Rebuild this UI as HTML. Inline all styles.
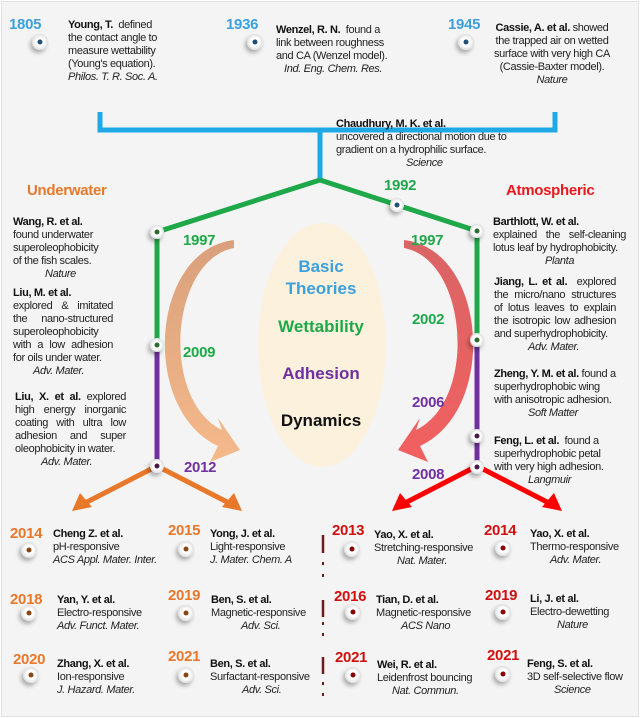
<!DOCTYPE html>
<html><head><meta charset="utf-8"><style>
body{margin:0;width:640px;height:718px;background:#fff;font-family:"Liberation Sans",sans-serif;overflow:hidden}
#c{position:absolute;left:1px;top:1px;width:636px;height:714px;background:#f4f4f4;border:1px solid #e2e2e2}
.t{position:absolute;font-size:11px;line-height:13px;color:#222;letter-spacing:-0.35px}
.t b{color:#111}
.t i{font-style:italic}
.y{position:absolute;font-weight:bold;font-size:15px;letter-spacing:-0.3px}
.c{text-align:center}
.j{text-align:justify}
.big{position:absolute;font-weight:bold;font-size:17px;text-align:center;width:160px;left:241px}
</style></head><body><div id="c"></div>
<svg width="640" height="718" style="position:absolute;left:0;top:0">
<defs>
<radialGradient id="nd"><stop offset="0.55" stop-color="#fff"/><stop offset="1" stop-color="#ddd"/></radialGradient>
<linearGradient id="og" x1="0" y1="0" x2="0" y2="1"><stop offset="0" stop-color="#d9a07c"/><stop offset="1" stop-color="#f5b98a"/></linearGradient>
<linearGradient id="rg" x1="0" y1="0" x2="0" y2="1"><stop offset="0" stop-color="#d96565"/><stop offset="1" stop-color="#f26060"/></linearGradient>
<filter id="sh"><feDropShadow dx="-2" dy="3" stdDeviation="2" flood-color="#000" flood-opacity="0.3"/></filter>
</defs>
<ellipse cx="322" cy="345" rx="64" ry="122" fill="#fbf1dc"/>
<path d="M100 112 V130 H555 V112 M320 130 V180" stroke="#1fa8e6" stroke-width="5" fill="none"/>
<path d="M320 180 L157 232 V345 M320 180 L397 205 L477 231 V340" stroke="#1fa84a" stroke-width="5" fill="none"/>
<path d="M157 345 V466 M477 340 V466" stroke="#7030a0" stroke-width="5" fill="none"/>
<g stroke="#e8782a" stroke-width="5" fill="#e8782a">
<path d="M157 466 L85 503 M157 466 L229 503"/>
<polygon points="72,511 80,493 92,507" stroke="none"/><polygon points="242,511 222,507 234,493" stroke="none"/></g>
<g stroke="#f00" stroke-width="5" fill="#f00">
<path d="M477 466 L405 503 M477 466 L549 503"/>
<polygon points="392,511 400,493 412,507" stroke="none"/><polygon points="562,511 542,507 554,493" stroke="none"/></g>
<path d="M234 248 C170 260 160 400 222 430 L218 418 L240 450 L210 462 L218 446 C140 410 150 250 234 240 Z" fill="url(#og)"/>
<path d="M404 248 C468 260 478 400 416 430 L420 418 L398 450 L428 462 L420 446 C498 410 488 250 404 240 Z" fill="url(#rg)"/>
<g stroke="#6b1a1a" stroke-width="2.5">
<path d="M323 535 V553 M323 600 V617 M323 657 V674"/>
<path d="M323 562 V565 M323 574 V577 M323 622 V625 M323 633 V636 M323 682 V685 M323 693 V696" stroke-width="2"/></g>
<g filter="url(#sh)">
<circle cx="40" cy="42" r="8" fill="url(#nd)"/><circle cx="255" cy="42" r="8" fill="url(#nd)"/><circle cx="466" cy="42" r="8" fill="url(#nd)"/>
<circle cx="397" cy="205" r="7" fill="url(#nd)"/>
<circle cx="157" cy="232" r="7" fill="url(#nd)"/><circle cx="157" cy="345" r="7" fill="url(#nd)"/><circle cx="157" cy="466" r="7" fill="url(#nd)"/>
<circle cx="477" cy="231" r="7" fill="url(#nd)"/><circle cx="477" cy="340" r="7" fill="url(#nd)"/><circle cx="477" cy="436" r="7" fill="url(#nd)"/><circle cx="477" cy="467" r="7" fill="url(#nd)"/>
<circle cx="29" cy="550" r="8" fill="url(#nd)"/><circle cx="186" cy="549" r="8" fill="url(#nd)"/><circle cx="352" cy="549" r="8" fill="url(#nd)"/><circle cx="503" cy="548" r="8" fill="url(#nd)"/>
<circle cx="29" cy="613" r="8" fill="url(#nd)"/><circle cx="186" cy="613" r="8" fill="url(#nd)"/><circle cx="353" cy="612" r="8" fill="url(#nd)"/><circle cx="503" cy="612" r="8" fill="url(#nd)"/>
<circle cx="31" cy="675" r="8" fill="url(#nd)"/><circle cx="186" cy="675" r="8" fill="url(#nd)"/><circle cx="353" cy="675" r="8" fill="url(#nd)"/><circle cx="503" cy="674" r="8" fill="url(#nd)"/>
</g>
<g fill="#1f4e79"><circle cx="40" cy="42" r="2.5"/><circle cx="255" cy="42" r="2.5"/><circle cx="466" cy="42" r="2.5"/><circle cx="397" cy="205" r="2.5"/></g>
<g fill="#2e6b2e"><circle cx="157" cy="232" r="2.5"/><circle cx="157" cy="345" r="2.5"/><circle cx="477" cy="231" r="2.5"/><circle cx="477" cy="340" r="2.5"/></g>
<g fill="#4a1a4a"><circle cx="157" cy="466" r="2.5"/><circle cx="477" cy="436" r="2.5"/><circle cx="477" cy="467" r="2.5"/></g>
<g fill="#8b4513"><circle cx="29" cy="550" r="2.5"/><circle cx="186" cy="549" r="2.5"/><circle cx="29" cy="613" r="2.5"/><circle cx="186" cy="613" r="2.5"/><circle cx="31" cy="675" r="2.5"/><circle cx="186" cy="675" r="2.5"/></g>
<g fill="#8b0000"><circle cx="352" cy="549" r="2.5"/><circle cx="503" cy="548" r="2.5"/><circle cx="353" cy="612" r="2.5"/><circle cx="503" cy="612" r="2.5"/><circle cx="353" cy="675" r="2.5"/><circle cx="503" cy="674" r="2.5"/></g>
</svg>

<div class="y" style="left:9px;top:16px;color:#3ca0dc">1805</div>
<div class="y" style="left:226px;top:16px;color:#3ca0dc">1936</div>
<div class="y" style="left:448px;top:16px;color:#3ca0dc">1945</div>
<div class="t" style="left:68px;top:19px;width:100px"><b>Young, T.</b>&nbsp; defined the contact angle to measure wettability (Young's equation).<br><i>Philos. T. R. Soc. A.</i></div>
<div class="t" style="left:276px;top:24px;width:118px"><b>Wenzel, R. N.</b>&nbsp; found a link between roughness and CA (Wenzel model).<br><i style="padding-left:8px">Ind. Eng. Chem. Res.</i></div>
<div class="t c" style="left:491px;top:22px;width:122px"><b>Cassie, A. et al.</b> showed the trapped air on wetted surface with very high CA (Cassie-Baxter model).<br><i>Nature</i></div>
<div class="t" style="left:336px;top:118px;width:172px"><b>Chaudhury, M. K. et al.</b><br>uncovered a directional motion due to gradient on a hydrophilic surface.<br><i style="padding-left:70px">Science</i></div>
<div class="y" style="left:27px;top:182px;color:#e8782a">Underwater</div>
<div class="y" style="left:506px;top:182px;color:#e8191e">Atmospheric</div>
<div class="y" style="left:384px;top:177px;color:#1fa84a">1992</div>
<div class="y" style="left:183px;top:232px;color:#1fa84a">1997</div>
<div class="y" style="left:183px;top:344px;color:#1fa84a">2009</div>
<div class="y" style="left:184px;top:459px;color:#7030a0">2012</div>
<div class="y" style="left:411px;top:232px;color:#1fa84a">1997</div>
<div class="y" style="left:412px;top:311px;color:#1fa84a">2002</div>
<div class="y" style="left:412px;top:394px;color:#7030a0">2006</div>
<div class="y" style="left:412px;top:466px;color:#7030a0">2008</div>
<div class="t" style="left:13px;top:216px;width:95px"><b>Wang, R. et al.</b><br>found underwater superoleophobicity of the fish scales.<br><i style="padding-left:32px">Nature</i></div>
<div class="t j" style="left:13px;top:287px;width:100px"><b>Liu, M. et al.</b><br>explored &amp; imitated the nano-structured superoleophobicity with a low adhesion for oils under water.<br><i style="padding-left:20px">Adv. Mater.</i></div>
<div class="t j" style="left:15px;top:391px;width:111px"><b>Liu, X. et al.</b> explored high energy inorganic coating with ultra low adhesion and super oleophobicity in water.<br><i style="padding-left:26px">Adv. Mater.</i></div>
<div class="t j" style="left:493px;top:216px;width:133px"><b>Barthlott, W. et al.</b><br>explained the self-cleaning lotus leaf by hydrophobicity.<br><i style="padding-left:52px">Planta</i></div>
<div class="t j" style="left:494px;top:276px;width:122px"><b>Jiang, L. et al.</b>&nbsp; explored the micro/nano structures of lotus leaves to explain the isotropic low adhesion and superhydrophobicity.<br><i style="padding-left:34px">Adv. Mater.</i></div>
<div class="t" style="left:494px;top:368px;width:126px"><b>Zheng, Y. M. et al.</b> found a superhydrophobic wing with anisotropic adhesion.<br><i style="padding-left:34px">Soft Matter</i></div>
<div class="t" style="left:494px;top:435px;width:118px"><b>Feng, L. et al.</b>&nbsp; found a superhydrophobic petal with very high adhesion.<br><i style="padding-left:34px">Langmuir</i></div>
<div class="big" style="top:256px;color:#3ca0dc;line-height:22px">Basic<br>Theories</div>
<div class="big" style="top:317px;color:#1fa84a">Wettability</div>
<div class="big" style="top:364px;color:#7030a0">Adhesion</div>
<div class="big" style="top:411px;color:#111">Dynamics</div>

<div class="y" style="left:10px;top:525px;color:#e8782a">2014</div>
<div class="y" style="left:168px;top:522px;color:#e8782a">2015</div>
<div class="y" style="left:332px;top:522px;color:#d01010">2013</div>
<div class="y" style="left:484px;top:522px;color:#d01010">2014</div>
<div class="y" style="left:10px;top:591px;color:#e8782a">2018</div>
<div class="y" style="left:168px;top:587px;color:#e8782a">2019</div>
<div class="y" style="left:334px;top:588px;color:#d01010">2016</div>
<div class="y" style="left:485px;top:587px;color:#d01010">2019</div>
<div class="y" style="left:13px;top:651px;color:#e8782a">2020</div>
<div class="y" style="left:168px;top:648px;color:#e8782a">2021</div>
<div class="y" style="left:335px;top:649px;color:#d01010">2021</div>
<div class="y" style="left:487px;top:647px;color:#d01010">2021</div>

<div class="t" style="left:53px;top:528px;width:120px"><b>Cheng Z. et al.</b><br>pH-responsive<br><i>ACS Appl. Mater. Inter.</i></div>
<div class="t" style="left:210px;top:528px;width:120px"><b>Yong, J. et al.</b><br>Light-responsive<br><i>J. Mater. Chem. A</i></div>
<div class="t" style="left:374px;top:529px;width:120px"><b>Yao, X. et al.</b><br>Stretching-responsive<br><i style="padding-left:23px">Nat. Mater.</i></div>
<div class="t" style="left:530px;top:528px;width:110px"><b>Yao, X. et al.</b><br>Thermo-responsive<br><i style="padding-left:20px">Adv. Mater.</i></div>
<div class="t" style="left:57px;top:594px;width:110px"><b>Yan, Y. et al.</b><br>Electro-responsive<br><i>Adv. Funct. Mater.</i></div>
<div class="t" style="left:211px;top:594px;width:120px"><b>Ben, S. et al.</b><br>Magnetic-responsive<br><i style="padding-left:30px">Adv. Sci.</i></div>
<div class="t" style="left:376px;top:594px;width:120px"><b>Tian, D. et al.</b><br>Magnetic-responsive<br><i style="padding-left:25px">ACS Nano</i></div>
<div class="t" style="left:530px;top:593px;width:110px"><b>Li, J. et al.</b><br>Electro-dewetting<br><i style="padding-left:27px">Nature</i></div>
<div class="t" style="left:57px;top:658px;width:110px"><b>Zhang, X. et al.</b><br>Ion-responsive<br><i>J. Hazard. Mater.</i></div>
<div class="t" style="left:210px;top:658px;width:120px"><b>Ben, S. et al.</b><br>Surfactant-responsive<br><i style="padding-left:32px">Adv. Sci.</i></div>
<div class="t" style="left:377px;top:659px;width:120px"><b>Wei, R. et al.</b><br>Leidenfrost bouncing<br><i style="padding-left:15px">Nat. Commun.</i></div>
<div class="t" style="left:527px;top:658px;width:115px"><b>Feng, S. et al.</b><br>3D self-selective flow<br><i style="padding-left:27px">Science</i></div>
</body></html>
